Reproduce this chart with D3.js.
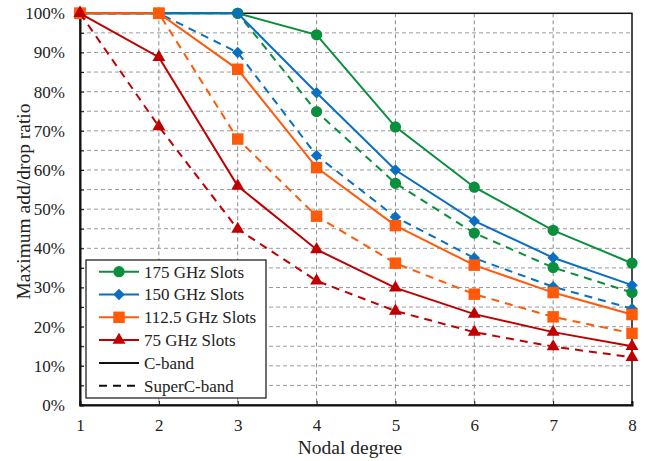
<!DOCTYPE html>
<html><head><meta charset="utf-8">
<script src="https://cdn.jsdelivr.net/npm/d3@7"></script>
<style>body{margin:0;background:#fff}svg{display:block}
svg text{font-family:"Times New Roman","Liberation Serif","DejaVu Serif",serif !important}</style>
</head><body><svg id="c" width="647" height="461" font-family="Times New Roman, Liberation Serif, serif"></svg>
<script>
const degrees = [1,2,3,4,5,6,7,8];
const yTicks = [0,10,20,30,40,50,60,70,80,90,100];
const g175C = [100,100,100,94.5,71.0,55.6,44.6,36.2];
const g175S = [100,100,100,74.9,56.6,43.9,35.1,28.7];
const g150C = [100,100,100,79.7,60.0,47.0,37.6,30.6];
const g150S = [100,100,90.0,63.7,48.0,37.5,30.2,24.6];
const g112C = [100,100,85.7,60.6,45.8,35.7,28.7,23.1];
const g112S = [100,100,67.9,48.2,36.2,28.3,22.5,18.3];
const g75C = [100,88.8,55.9,39.7,29.9,23.2,18.6,15.0];
const g75S = [100,71.1,44.9,31.7,24.0,18.6,14.9,12.2];
const seriesNames = ["175 GHz Slots","150 GHz Slots","112.5 GHz Slots","75 GHz Slots"];
const bandNames = ["C-band","SuperC-band"];

const FONT = "'Times New Roman', 'Liberation Serif', serif";
const colors = ["#0a8f3c","#0a6fc2","#ff5a0a","#c00000"];
const shapes = [d3.symbolCircle,d3.symbolSquare,d3.symbolSquare,d3.symbolTriangle];
const sizes = [100,66,132,72];
const rots = [0,45,0,0];
const series = [
  {k:0,dash:false,v:g175C},{k:0,dash:true,v:g175S},
  {k:1,dash:false,v:g150C},{k:1,dash:true,v:g150S},
  {k:2,dash:false,v:g112C},{k:2,dash:true,v:g112S},
  {k:3,dash:false,v:g75C},{k:3,dash:true,v:g75S}
];
const L=80,R=632,T=13.3,B=405;
const svg=d3.select("#c");
const x=d3.scaleLinear().domain([1,8]).range([L,R]);
const y=d3.scaleLinear().domain([0,100]).range([B,T]);

// grid
const minor=d3.range(5,100,5);
svg.append("g").selectAll("line").data(minor).join("line")
  .attr("x1",L).attr("x2",R).attr("y1",d=>y(d)).attr("y2",d=>y(d))
  .attr("stroke","#9a9a9a").attr("stroke-width",1).attr("stroke-dasharray","4,3");
svg.append("g").selectAll("line").data(degrees.slice(1,-1)).join("line")
  .attr("x1",d=>x(d)).attr("x2",d=>x(d)).attr("y1",T).attr("y2",B)
  .attr("stroke","#8a8a8a").attr("stroke-width",1).attr("stroke-dasharray","4,3");
// frame
svg.append("rect").attr("x",L).attr("y",T).attr("width",R-L).attr("height",B-T)
  .attr("fill","none").attr("stroke","#111").attr("stroke-width",1.5);

// axes
const xa=svg.append("g").attr("transform",`translate(0,${B})`)
  .call(d3.axisBottom(x).tickValues(degrees).tickFormat(d3.format("d")).tickSize(-4).tickPadding(14));
const ya=svg.append("g").attr("transform",`translate(${L},0)`)
  .call(d3.axisLeft(y).tickValues(d3.range(0,101,5)).tickFormat(d=>d%10===0?d+"%":"").tickSize(-4).tickPadding(15));
[xa,ya].forEach(a=>{a.attr("font-family",null).attr("font-size",17);
  a.select(".domain").attr("stroke","#111").attr("stroke-width",2);
  a.selectAll(".tick line").attr("stroke","#111");
  a.selectAll("text").attr("fill","#222").style("font-family",FONT).style("font-size","17px");});

// lines
const line=d3.line().x((d,i)=>x(degrees[i])).y(d=>y(d));
const sym=k=>d3.symbol().type(shapes[k]).size(sizes[k]);
series.forEach(s=>{
  svg.append("path").datum(s.v).attr("d",line).attr("fill","none")
    .attr("stroke",colors[s.k]).attr("stroke-width",2)
    .attr("stroke-dasharray",s.dash?"8,6":null);
  svg.append("g").selectAll("path").data(s.v).join("path")
    .attr("transform",(d,i)=>`translate(${x(degrees[i])},${y(d)}) rotate(${rots[s.k]})`)
    .attr("d",sym(s.k)).attr("fill",colors[s.k]);
});

// legend
const lg=svg.append("g");
lg.append("rect").attr("x",86).attr("y",260).attr("width",180).attr("height",138)
  .attr("fill","#fff").attr("stroke","#111").attr("stroke-width",1.2);
const rows=[...seriesNames.map((n,i)=>({n,c:colors[i],s:i,dash:false})),
  ...bandNames.map((n,i)=>({n,c:"#111",s:null,dash:i===1}))];
rows.forEach((r,i)=>{
  const yy=271.7+i*22.8;
  lg.append("line").attr("x1",99).attr("x2",139).attr("y1",yy).attr("y2",yy)
    .attr("stroke",r.c).attr("stroke-width",2).attr("stroke-dasharray",r.dash?"8,6":null);
  if(r.s!==null) lg.append("path").attr("transform",`translate(119,${yy}) rotate(${rots[r.s]})`)
    .attr("d",sym(r.s)).attr("fill",r.c);
  lg.append("text").attr("x",144).attr("y",yy).attr("dy","0.35em")
    .style("font-family",FONT).style("font-size","17px").attr("fill","#222").text(r.n);
});

svg.append("text").attr("x",350).attr("y",447).attr("dy","0.35em").attr("text-anchor","middle")
  .style("font-family",FONT).style("font-size","19.5px").attr("fill","#222").text("Nodal degree");
svg.append("text").attr("transform",`translate(23,201.5) rotate(-90)`).attr("dy","0.35em")
  .attr("text-anchor","middle").style("font-family",FONT).style("font-size","19.5px").attr("fill","#222")
  .text("Maximum add/drop ratio");
</script></body></html>
